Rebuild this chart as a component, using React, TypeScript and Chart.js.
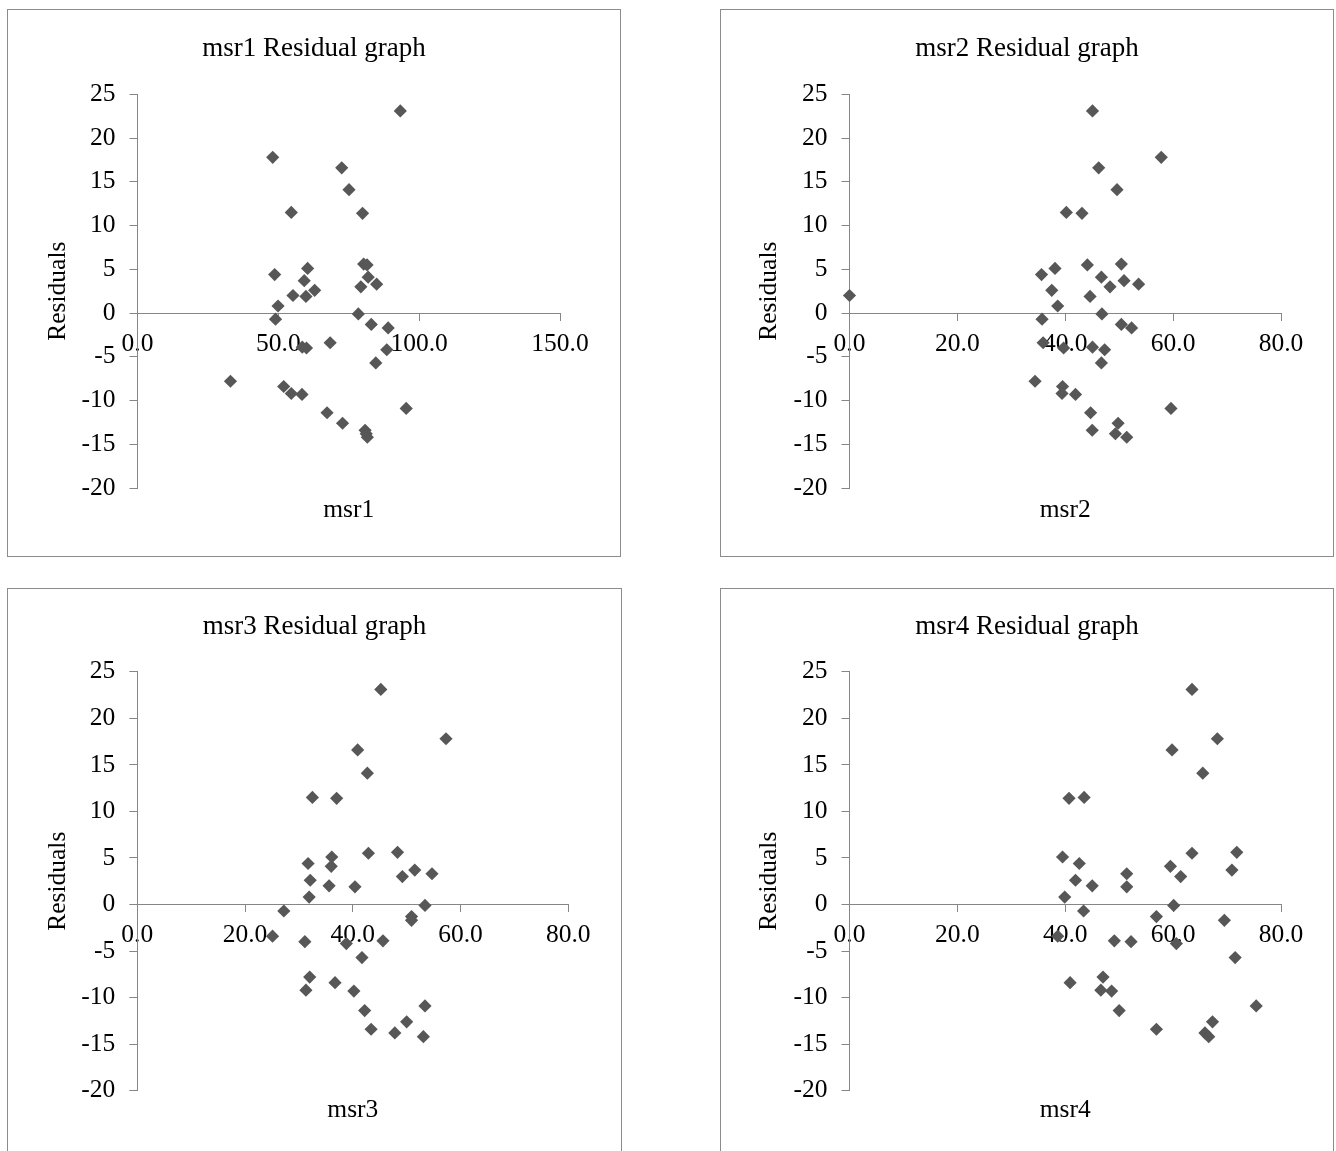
import React, { useEffect, useRef } from "react";
import { Chart, registerables } from "chart.js";

Chart.register(...registerables);

// ---- data ----
const residuals = [23.1, 17.8, 16.6, 14.1, 11.5, 11.4, 5.6, 5.5, 5.1, 4.4, 4.1, 3.7, 3.3, 3.0, 2.6, 2.0, 1.9, 0.8, -0.1, -0.7, -1.3, -1.7, -3.4, -3.9, -4.0, -4.2, -5.7, -7.8, -8.4, -9.2, -9.3, -10.9, -11.4, -12.6, -13.4, -13.8, -14.2];
const msr1 = [93.3, 48.0, 72.5, 75.1, 54.6, 79.9, 80.3, 81.5, 60.4, 48.7, 81.9, 59.2, 84.9, 79.3, 62.9, 55.2, 59.8, 49.9, 78.4, 49.0, 83.0, 89.0, 68.4, 58.5, 60.0, 88.5, 84.6, 33.0, 51.9, 54.6, 58.4, 95.4, 67.3, 72.8, 80.8, 81.2, 81.6];
const msr2 = [45.05, 57.8, 46.2, 49.6, 40.2, 43.1, 50.4, 44.1, 38.1, 35.6, 46.7, 50.9, 53.6, 48.3, 37.5, 0.0, 44.6, 38.6, 46.8, 35.7, 50.4, 52.3, 35.9, 45.05, 39.7, 47.3, 46.7, 34.4, 39.5, 39.4, 41.9, 59.6, 44.7, 49.8, 45.0, 49.3, 51.4];
const msr3 = [45.2, 57.3, 40.9, 42.7, 32.5, 37.0, 48.3, 42.9, 36.1, 31.7, 36.0, 51.5, 54.7, 49.2, 32.1, 35.6, 40.4, 31.9, 53.4, 27.2, 50.9, 50.9, 25.1, 45.6, 31.1, 38.8, 41.7, 32.0, 36.7, 31.3, 40.2, 53.4, 42.2, 50.0, 43.4, 47.8, 53.1];
const msr4 = [63.5, 68.2, 59.8, 65.5, 43.5, 40.7, 71.8, 63.5, 39.5, 42.6, 59.5, 70.9, 51.4, 61.4, 41.9, 45.0, 51.4, 39.9, 60.1, 43.4, 56.9, 69.5, 38.6, 49.1, 52.2, 60.6, 71.5, 47.0, 40.9, 46.6, 48.6, 75.4, 50.0, 67.3, 56.9, 65.9, 66.6];

const seriesNames = ["msr1", "msr2", "msr3", "msr4"];
const seriesX = [msr1, msr2, msr3, msr4];
const xMaxes = [150, 80, 80, 80];
const xSteps = [50, 20, 20, 20];
const yMin = -20;
const yMax = 25;
const yStep = 5;
const yTitle = "Residuals";

// ---- layout / style ----
const FONT = "'Liberation Serif', 'Times New Roman', serif";
const AXIS = "#868686";
const MARK = "#575757";
const BORDER = "#8c8c8c";

type Panel = {
  left: number; top: number; w: number; h: number;
  plotL: number; plotR: number; plotT: number; plotB: number;
  titleY: number; xTitleY: number; yTitleX: number;
};

const panels: Panel[] = [
  { left: 7, top: 9, w: 614, h: 548, plotL: 129.5, plotR: 552, plotT: 84.3, plotB: 478, titleY: 38.5, xTitleY: 499.8, yTitleX: 50.5 },
  { left: 720, top: 9, w: 614, h: 548, plotL: 128.5, plotR: 560, plotT: 84.3, plotB: 478, titleY: 38.5, xTitleY: 499.8, yTitleX: 48 },
  { left: 7, top: 588, w: 615, h: 590, plotL: 129.3, plotR: 560.3, plotT: 82.7, plotB: 501.7, titleY: 37.5, xTitleY: 521, yTitleX: 50.5 },
  { left: 720, top: 588, w: 614, h: 590, plotL: 128.5, plotR: 560, plotT: 82.7, plotB: 501.7, titleY: 37.5, xTitleY: 521, yTitleX: 48 },
];

const TITLE_SIZE = 27;
const LABEL_SIZE = 25.5;

function ResidualChart({ idx }: { idx: number }) {
  const ref = useRef<HTMLCanvasElement | null>(null);
  const p = panels[idx];
  const cw = p.w - 2;
  const ch = p.h - 2;

  useEffect(() => {
    if (!ref.current) return;
    const name = seriesNames[idx];
    const xs = seriesX[idx];
    const data = xs.map((x, i) => ({ x, y: residuals[i] }));
    const tHalf = (TITLE_SIZE * 1.2) / 2;
    const lHalf = (LABEL_SIZE * 1.2) / 2;

    const chart = new Chart(ref.current, {
      type: "scatter",
      data: {
        datasets: [
          {
            data,
            xAxisID: "x",
            yAxisID: "y",
            pointStyle: "rectRot",
            pointRadius: 6.6,
            pointBackgroundColor: MARK,
            pointBorderColor: MARK,
            pointBorderWidth: 0,
            clip: false,
          } as any,
        ],
      },
      options: {
        responsive: false,
        maintainAspectRatio: false,
        animation: false,
        events: [],
        layout: { padding: 0 },
        plugins: {
          legend: { display: false },
          tooltip: { enabled: false },
          title: {
            display: true,
            text: `${name} Residual graph`,
            color: "#000",
            font: { family: FONT, size: TITLE_SIZE, weight: "normal", lineHeight: 1.2 },
            padding: { top: p.titleY - tHalf, bottom: p.plotT - p.titleY - tHalf },
          },
          subtitle: {
            display: true,
            position: "bottom",
            fullSize: false,
            text: name,
            color: "#000",
            font: { family: FONT, size: LABEL_SIZE, weight: "normal", lineHeight: 1.2 },
            padding: { top: p.xTitleY - p.plotB - lHalf, bottom: ch - p.xTitleY - lHalf },
          },
        },
        scales: {
          x: {
            type: "linear",
            position: { y: 0 } as any,
            min: 0,
            max: xMaxes[idx],
            ticks: {
              stepSize: xSteps[idx],
              autoSkip: false,
              maxRotation: 0,
              color: "#000",
              padding: 9,
              font: { family: FONT, size: LABEL_SIZE, lineHeight: 1.2 },
              callback: (v: any) => Number(v).toFixed(1),
            },
            grid: { drawOnChartArea: false, drawTicks: true, tickLength: 7, color: AXIS, lineWidth: 1 },
            border: { display: true, color: AXIS, width: 1 },
          },
          y: {
            type: "linear",
            position: "left",
            min: yMin,
            max: yMax,
            ticks: {
              stepSize: yStep,
              color: "#000",
              padding: 14,
              font: { family: FONT, size: LABEL_SIZE, lineHeight: 1.2 },
            },
            grid: { drawOnChartArea: false, drawTicks: true, tickLength: 8, color: AXIS, lineWidth: 1 },
            border: { display: true, color: AXIS, width: 1 },
            title: {
              display: true,
              text: yTitle,
              color: "#000",
              font: { family: FONT, size: LABEL_SIZE, weight: "normal", lineHeight: 1.2 },
              padding: { top: p.yTitleX - lHalf, bottom: 0 },
            },
            afterFit: (scale: any) => {
              scale.width = p.plotL;
            },
          },
          // invisible spacer on the right so the chart title stays centred on the whole panel
          yRight: {
            type: "linear",
            position: "right",
            min: yMin,
            max: yMax,
            ticks: { display: false },
            grid: { display: false, drawTicks: false },
            border: { display: false },
            afterFit: (scale: any) => {
              scale.width = cw - p.plotR;
            },
          },
        },
      } as any,
    });
    return () => chart.destroy();
  }, [idx]);

  return (
    <div
      style={{
        position: "absolute",
        left: p.left,
        top: p.top,
        width: p.w,
        height: p.h,
        border: `1px solid ${BORDER}`,
        boxSizing: "border-box",
        background: "#fff",
      }}
    >
      <canvas ref={ref} width={cw} height={ch} style={{ display: "block", width: cw, height: ch }} />
    </div>
  );
}

export default function App() {
  return (
    <div
      style={{
        position: "absolute",
        left: 0,
        top: 0,
        width: 1336,
        height: 1151,
        overflow: "hidden",
        background: "#fff",
      }}
    >
      {seriesNames.map((_, i) => (
        <ResidualChart key={i} idx={i} />
      ))}
    </div>
  );
}
